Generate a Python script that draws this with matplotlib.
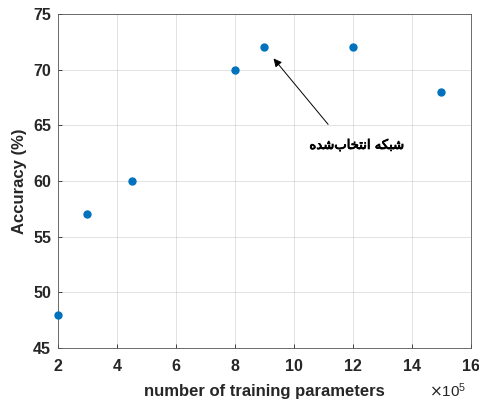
import matplotlib.pyplot as plt
import matplotlib.patheffects as pe

# data (x in units of 1e5 parameters)
params = [2, 3, 4.5, 8, 9, 12, 15]
accuracy = [48, 57, 60, 70, 72, 72, 68]

x_ticks = [2, 4, 6, 8, 10, 12, 14, 16]
y_ticks = [45, 50, 55, 60, 65, 70, 75]

# "شبکه انتخاب‌شده" pre-shaped (presentation forms), in visual left-to-right order
label_text = "\uFEE9\uFEAA\uFEB7\uFE8F\uFE8E\uFEA8\uFE98\uFEE7\uFE8D \uFEEA\uFB91\uFE92\uFEB7"

axis_col = "#262626"
plt.rcParams["font.family"] = ["Liberation Sans", "DejaVu Sans"]

fig = plt.figure(figsize=(4.79, 4.01), dpi=100)
ax = fig.add_axes([0.121, 0.132, 0.862, 0.833])

ax.plot(params, accuracy, "o", color="#0072BD", markersize=5, clip_on=False, zorder=3)

ax.set_xlim(2, 16)
ax.set_ylim(45, 75)
ax.set_xticks(x_ticks)
ax.set_yticks(y_ticks)
ax.grid(True, color="#262626", alpha=0.15, linewidth=0.6)
ax.tick_params(direction="in", length=3, width=0.6, colors=axis_col, labelsize=11.5)
ax.tick_params(axis="x", pad=8)
ax.tick_params(axis="y", pad=5)
for lbl in ax.get_xticklabels() + ax.get_yticklabels():
    lbl.set_fontweight("bold")
for s in ax.spines.values():
    s.set_color("#555555")
    s.set_linewidth(0.6)

ax.set_xlabel("number of training parameters", fontsize=12, fontweight="bold", color=axis_col, labelpad=7)
ax.set_ylabel("Accuracy (%)", fontsize=12, fontweight="bold", color=axis_col, labelpad=4)

fig.text(0.934, 0.003, r"$\times\mathregular{10^5}$", fontsize=11, color=axis_col, ha="center", va="bottom")

ax.annotate("", xy=(9.25, 71.2), xytext=(11.22, 64.9),
            arrowprops=dict(arrowstyle="-|>", color="black", lw=0.7, mutation_scale=12))
ax.text(12.14, 63.2, label_text, family="DejaVu Sans", fontsize=9.5,
        ha="center", va="center", color="black",
        path_effects=[pe.withStroke(linewidth=0.6, foreground="black")])

fig.savefig("out.png", dpi=100)
